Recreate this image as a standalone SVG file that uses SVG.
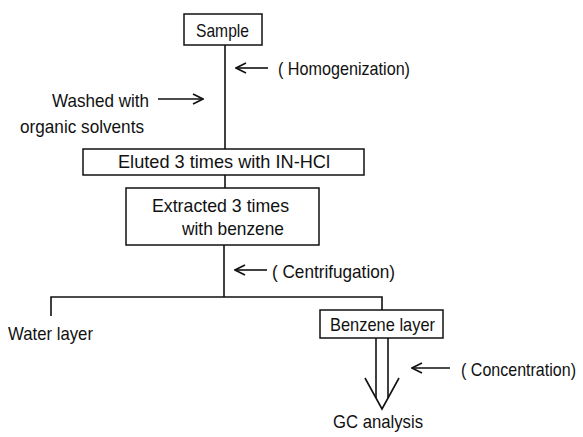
<svg xmlns="http://www.w3.org/2000/svg" width="583" height="437" viewBox="0 0 583 437">
<style>
.box{fill:#fff;stroke:#111;stroke-width:1.5}
.ln{fill:none;stroke:#111;stroke-width:1.6}
.t{font-family:"Liberation Sans",Arial,sans-serif;font-size:19px;fill:#111}
</style>
<defs>
<marker id="ah" viewBox="0 0 12 12" refX="11" refY="6" markerWidth="12" markerHeight="12" markerUnits="userSpaceOnUse" orient="auto">
<polyline points="1,1 11,6 1,11" fill="none" stroke="#111" stroke-width="1.6"/>
</marker>
</defs>
<rect width="583" height="437" fill="#fff"/>
<g id="connectors">
<line class="ln" x1="225" y1="45" x2="225" y2="149"/>
<line class="ln" x1="225" y1="175" x2="225" y2="188"/>
<line class="ln" x1="224" y1="245" x2="224" y2="297"/>
<polyline class="ln" points="51,316 51,297 382,297 382,310"/>
<line class="ln" x1="268" y1="68" x2="236" y2="68" marker-end="url(#ah)"/>
<line class="ln" x1="158" y1="99" x2="203" y2="99" marker-end="url(#ah)"/>
<line class="ln" x1="267" y1="270" x2="235" y2="270" marker-end="url(#ah)"/>
<line class="ln" x1="450" y1="368" x2="412" y2="368" marker-end="url(#ah)"/>
<line class="ln" x1="376" y1="338" x2="376" y2="398"/>
<line class="ln" x1="388" y1="338" x2="388" y2="398"/>
<polyline class="ln" points="365,378 382,409 399,378"/>
</g>
<g id="sample">
<rect class="box" x="184" y="14" width="78" height="31"/>
<text class="t" x="196" y="37" textLength="53" lengthAdjust="spacingAndGlyphs">Sample</text>
</g>
<g id="homogenization">
<text class="t" x="278" y="75" textLength="132" lengthAdjust="spacingAndGlyphs">( Homogenization)</text>
</g>
<g id="washed">
<text class="t" x="52" y="107" textLength="97" lengthAdjust="spacingAndGlyphs">Washed with</text>
<text class="t" x="20" y="133" textLength="124" lengthAdjust="spacingAndGlyphs">organic solvents</text>
</g>
<g id="eluted">
<rect class="box" x="83" y="149" width="281" height="26"/>
<text class="t" x="118" y="168" textLength="212" lengthAdjust="spacingAndGlyphs">Eluted 3 times with IN-HCl</text>
</g>
<g id="extracted">
<rect class="box" x="126" y="188" width="193" height="57"/>
<text class="t" x="152" y="212" textLength="137" lengthAdjust="spacingAndGlyphs">Extracted 3 times</text>
<text class="t" x="182" y="235" textLength="102" lengthAdjust="spacingAndGlyphs">with benzene</text>
</g>
<g id="centrifugation">
<text class="t" x="272" y="278" textLength="123" lengthAdjust="spacingAndGlyphs">( Centrifugation)</text>
</g>
<g id="water">
<text class="t" x="8" y="340" textLength="85" lengthAdjust="spacingAndGlyphs">Water layer</text>
</g>
<g id="benzene">
<rect class="box" x="320" y="310" width="123" height="28"/>
<text class="t" x="330" y="331" textLength="105" lengthAdjust="spacingAndGlyphs">Benzene layer</text>
</g>
<g id="concentration">
<text class="t" transform="translate(461,376) scale(1,1.19)" x="0" y="0" style="font-size:16px" textLength="115" lengthAdjust="spacingAndGlyphs">( Concentration)</text>
</g>
<g id="gc">
<text class="t" x="333" y="428" textLength="90" lengthAdjust="spacingAndGlyphs">GC analysis</text>
</g>
</svg>
